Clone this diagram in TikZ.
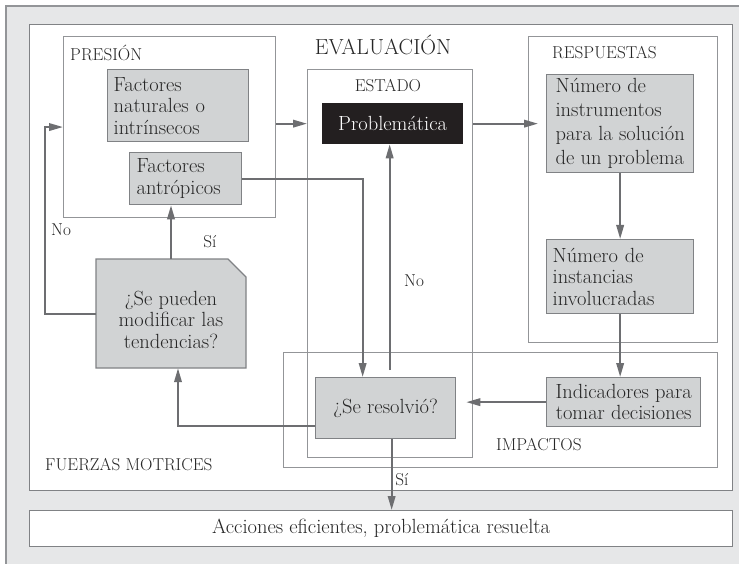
\documentclass[tikz,border=0pt]{standalone}
\usetikzlibrary{arrows.meta,calc}
\definecolor{bggray}{HTML}{E6E7E8}
\definecolor{boxgray}{HTML}{D1D3D4}
\definecolor{linegray}{HTML}{6D6E71}
\definecolor{framegray}{HTML}{939598}
\definecolor{bordergray}{HTML}{808285}
\definecolor{darkbox}{HTML}{231F20}
\newcommand\bodyfont{\fontsize{20.5}{24}\selectfont}
\newcommand\tightfont{\fontsize{20.5}{21.5}\selectfont}
\newcommand\capfont{\fontsize{17.2}{19}\selectfont}
\newcommand\titlefont{\fontsize{21.8}{24}\selectfont}
\begin{document}
\begin{tikzpicture}[x=1pt,y=-1pt,
  frame/.style={draw=framegray, line width=1.1pt, inner sep=0pt, anchor=north west},
  gbox/.style={draw=bordergray, fill=boxgray, line width=1.3pt, inner sep=0pt, anchor=north west, font=\bodyfont, align=left, text=black!85},
  lbl/.style={inner sep=0pt, font=\capfont, text=black!85},
  arr/.style={draw=linegray, line width=2pt, -{Triangle[length=14pt,width=7.5pt]}}
]
\useasboundingbox (0,0) rectangle (739,564);
\fill[bggray] (6,6) rectangle (739,564);
\draw[framegray, line width=1.1pt] (6,564) -- (6,6) -- (739,6);

% main frames
\node[frame, draw=bordergray, fill=white, line width=1.3pt, minimum width=703pt, minimum height=466pt] (main) at (29,24) {};
\node[frame, draw=bordergray, fill=white, line width=1.3pt, minimum width=703pt, minimum height=36pt, font=\bodyfont, text=black!85] (final) at (29,510) {Acciones eficientes, problemática resuelta};

% containers
\node[frame, minimum width=212pt, minimum height=181pt] (presion) at (63,36) {};
\node[frame, minimum width=165pt, minimum height=388pt] (estado) at (307,69) {};
\node[frame, minimum width=189pt, minimum height=306pt] (resp) at (528,36) {};
\node[frame, minimum width=434pt, minimum height=115pt] (impact) at (283,352) {};

% labels of containers
\node[lbl, anchor=west] (lpres) at (70,53) {PRESIÓN};
\node[lbl, font=\titlefont] (leval) at (383,45) {EVALUACIÓN};
\node[lbl] (lest) at (388,86) {ESTADO};
\node[lbl, anchor=west] (lresp) at (552,53) {RESPUESTAS};
\node[lbl, anchor=west] (limp) at (496,445) {IMPACTOS};
\node[lbl, anchor=west] (lfuer) at (45,465) {FUERZAS MOTRICES};

% gray boxes
\node[gbox, inner xsep=6pt, text width=129pt, minimum height=72pt, font=\tightfont] (natur) at (107,69) {Factores\\naturales o\\intrínsecos};
\node[gbox, inner xsep=7pt, text width=98pt, minimum height=52pt, font=\tightfont] (antrop) at (129,152) {Factores\\antrópicos};
\node[gbox, fill=darkbox, draw=darkbox, text=white, align=center, minimum width=140pt, minimum height=40pt] (prob) at (322,103) {Problemática};
\node[gbox, minimum width=147pt, minimum height=98pt] (instr) at (546,74) {Número de\\instrumentos\\para la solución\\de un problema};
\node[gbox, inner xsep=6pt, text width=135pt, minimum height=74pt, font=\tightfont] (instanc) at (546,239) {Número de\\instancias\\involucradas};
\node[gbox, align=center, minimum width=154pt, minimum height=49pt, font=\tightfont] (indic) at (546,377) {Indicadores para\\tomar decisiones};
\node[gbox, align=center, minimum width=140pt, minimum height=61pt] (resolv) at (315,377) {¿Se resolvió?};
\filldraw[draw=bordergray, fill=boxgray, line width=1.3pt] (96,259) -- (228,259) -- (246,277) -- (246,368) -- (96,368) -- cycle;
\node[inner sep=0pt, minimum width=150pt, minimum height=109pt,
  label={[inner sep=0pt, align=center, font=\tightfont, text=black!85, yshift=-6pt]center:{¿Se pueden\\modificar las\\tendencias?}}] (pueden) at (171,313.5) {};

% connectors
\draw[arr] (presion.east |- prob.west) -- (estado.west |- prob.west);
\draw[arr] (estado.east |- prob.east) -- ($(resp.west |- prob.east)+(10,0)$);
\draw[arr] (instr.south) -- (instanc.north);
\draw[arr] (instanc.south) -- (instanc.south |- indic.north);
\draw[arr] (indic.west) -- ($(resolv.east |- indic.west)+(10,0)$);
\coordinate (noS) at ($(resolv.north)+(4,-7)$);
\draw[arr] (noS) -- (noS |- prob.south);
\draw[arr] (antrop.east) -| ($(resolv.north)+(-23,0)$);
\draw[arr] ($(resolv.south west)+(0,-13)$) -| ($(pueden.south)+(7,0)$);
\draw[arr] (pueden.north) -- (pueden.north |- antrop.south);
\draw[arr] (pueden.west) -- ++(-51,0) |- (presion.west);
\coordinate (siS) at ($(resolv.south)+(6,0)$);
\draw[arr] (siS) -- (siS |- final.north);

% connector labels
\node[lbl, anchor=west] (lno1) at (51,230) {No};
\node[lbl] (lsi1) at (210,242) {Sí};
\node[lbl] (lno2) at (414,281) {No};
\node[lbl] (lsi2) at (402,480) {Sí};
\end{tikzpicture}
\end{document}
